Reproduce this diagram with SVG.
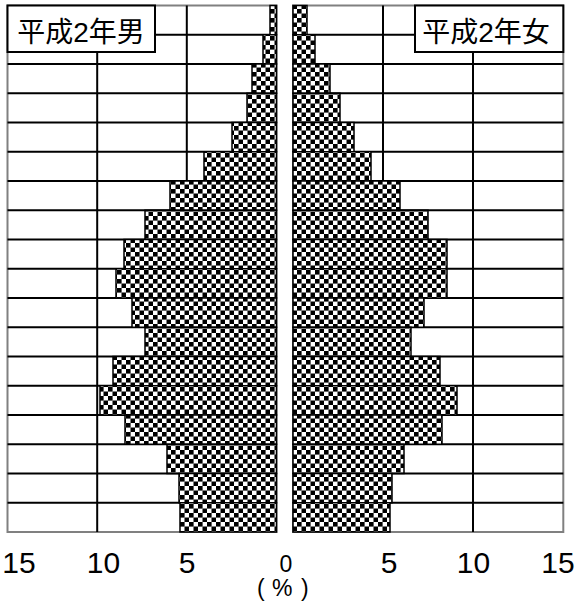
<svg xmlns="http://www.w3.org/2000/svg" width="575" height="604" viewBox="0 0 575 604">
<style>
.frame{fill:none;stroke:#808080;stroke-width:2}
.grid{stroke:#000;stroke-width:2;fill:none}
.bar{fill:url(#chk);stroke:#000;stroke-width:1.5}
.box{fill:#fff;stroke:#000;stroke-width:2}
.lbl{font-family:"Liberation Sans","Noto Sans CJK JP",sans-serif;font-size:28px;fill:#000;text-anchor:middle}
.ax{font-family:"Liberation Sans",Arial,sans-serif;font-size:30px;fill:#000;text-anchor:middle}
.ax0{font-family:"Liberation Sans",Arial,sans-serif;font-size:23px;fill:#000}
</style>
<defs>
<pattern id="chk" patternUnits="userSpaceOnUse" width="9" height="9">
<rect width="9" height="9" fill="#fff"/>
<rect x="0" y="0" width="4.6" height="4.6" fill="#000"/>
<rect x="4.5" y="4.5" width="4.6" height="4.6" fill="#000"/>
</pattern>
</defs>
<rect width="575" height="604" fill="#fff"/>
<g id="male-panel">
<rect class="frame" x="7.5" y="5.5" width="269" height="526.5"/>
<path class="grid" d="M97.2 5.5V532M186.8 5.5V532M7.5 34.75H276.5M7.5 64H276.5M7.5 93.25H276.5M7.5 122.5H276.5M7.5 151.75H276.5M7.5 181H276.5M7.5 210.25H276.5M7.5 239.5H276.5M7.5 268.75H276.5M7.5 298H276.5M7.5 327.25H276.5M7.5 356.5H276.5M7.5 385.75H276.5M7.5 415H276.5M7.5 444.25H276.5M7.5 473.5H276.5M7.5 502.75H276.5"/>
<g id="male-bars">
<rect class="bar" x="270" y="5.5" width="6.5" height="29.25"/>
<rect class="bar" x="263" y="34.75" width="13.5" height="29.25"/>
<rect class="bar" x="252" y="64" width="24.5" height="29.25"/>
<rect class="bar" x="247" y="93.25" width="29.5" height="29.25"/>
<rect class="bar" x="232" y="122.5" width="44.5" height="29.25"/>
<rect class="bar" x="204" y="151.75" width="72.5" height="29.25"/>
<rect class="bar" x="170" y="181" width="106.5" height="29.25"/>
<rect class="bar" x="145" y="210.25" width="131.5" height="29.25"/>
<rect class="bar" x="124" y="239.5" width="152.5" height="29.25"/>
<rect class="bar" x="116" y="268.75" width="160.5" height="29.25"/>
<rect class="bar" x="132" y="298" width="144.5" height="29.25"/>
<rect class="bar" x="145" y="327.25" width="131.5" height="29.25"/>
<rect class="bar" x="113" y="356.5" width="163.5" height="29.25"/>
<rect class="bar" x="100" y="385.75" width="176.5" height="29.25"/>
<rect class="bar" x="125" y="415" width="151.5" height="29.25"/>
<rect class="bar" x="167" y="444.25" width="109.5" height="29.25"/>
<rect class="bar" x="179" y="473.5" width="97.5" height="29.25"/>
<rect class="bar" x="180" y="502.75" width="96.5" height="29.25"/>
</g>
</g>
<g id="female-panel">
<rect class="frame" x="293" y="5.5" width="270.3" height="526.5"/>
<path class="grid" d="M383 5.5V532M473 5.5V532M293 34.75H563.3M293 64H563.3M293 93.25H563.3M293 122.5H563.3M293 151.75H563.3M293 181H563.3M293 210.25H563.3M293 239.5H563.3M293 268.75H563.3M293 298H563.3M293 327.25H563.3M293 356.5H563.3M293 385.75H563.3M293 415H563.3M293 444.25H563.3M293 473.5H563.3M293 502.75H563.3"/>
<g id="female-bars">
<rect class="bar" x="293" y="5.5" width="14" height="29.25"/>
<rect class="bar" x="293" y="34.75" width="22" height="29.25"/>
<rect class="bar" x="293" y="64" width="37" height="29.25"/>
<rect class="bar" x="293" y="93.25" width="47" height="29.25"/>
<rect class="bar" x="293" y="122.5" width="61" height="29.25"/>
<rect class="bar" x="293" y="151.75" width="78" height="29.25"/>
<rect class="bar" x="293" y="181" width="107" height="29.25"/>
<rect class="bar" x="293" y="210.25" width="135" height="29.25"/>
<rect class="bar" x="293" y="239.5" width="154" height="29.25"/>
<rect class="bar" x="293" y="268.75" width="154" height="29.25"/>
<rect class="bar" x="293" y="298" width="131" height="29.25"/>
<rect class="bar" x="293" y="327.25" width="118" height="29.25"/>
<rect class="bar" x="293" y="356.5" width="147" height="29.25"/>
<rect class="bar" x="293" y="385.75" width="164" height="29.25"/>
<rect class="bar" x="293" y="415" width="149" height="29.25"/>
<rect class="bar" x="293" y="444.25" width="111" height="29.25"/>
<rect class="bar" x="293" y="473.5" width="99" height="29.25"/>
<rect class="bar" x="293" y="502.75" width="97" height="29.25"/>
</g>
</g>
<g id="label-male">
<rect class="box" x="7.5" y="5.5" width="147.5" height="46.5"/>
<text class="lbl" x="81" y="41.5">平成2年男</text>
</g>
<g id="label-female">
<rect class="box" x="415" y="5.5" width="148.3" height="46.5"/>
<text class="lbl" x="486" y="41.5">平成2年女</text>
</g>
<g id="axis">
<text class="ax" x="19" y="573">15</text>
<text class="ax" x="103.5" y="573">10</text>
<text class="ax" x="187" y="573">5</text>
<text class="ax0" x="286" y="572" text-anchor="middle">0</text>
<text class="ax" x="389" y="573">5</text>
<text class="ax" x="473.5" y="573">10</text>
<text class="ax" x="558" y="573">15</text>
<text class="ax0"><tspan x="257" y="596">(</tspan><tspan x="272" y="596">%</tspan><tspan x="301" y="596">)</tspan></text>
</g>
</svg>
